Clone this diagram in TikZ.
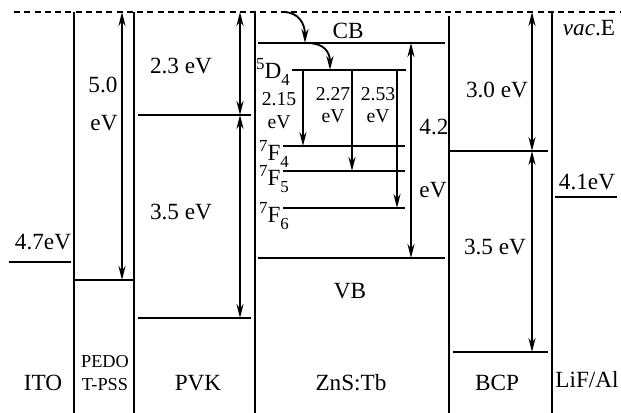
\documentclass[tikz,border=0pt]{standalone}
\usepackage{fontspec}
\setmainfont{Liberation Serif}
\usepackage{tikz}
\usetikzlibrary{arrows.meta, positioning}

\newcommand{\upidx}[1]{\raisebox{0.42em}{\fontsize{12}{12}\selectfont #1}}
\newcommand{\lowidx}[1]{\raisebox{-0.3em}{\fontsize{12}{12}\selectfont #1}}

\begin{document}
\begin{tikzpicture}[
        x=0.025cm, y=-0.025cm,
        wall/.style={line width=1.3pt},
        level/.style={line width=1.3pt},
        arrow/.style={-{Stealth[length=10pt, width=5pt]}, line width=1.3pt},
        darrow/.style={{Stealth[length=10pt, width=5pt]}-{Stealth[length=10pt, width=5pt]}, line width=1.3pt},
        lbl/.style={inner sep=0pt, font=\fontsize{16.5}{18}\selectfont},
        trans/.style={inner sep=0pt, font=\fontsize{14}{16}\selectfont},
        small/.style={inner sep=0pt, align=center, font=\fontsize{13}{16}\selectfont}
        ]
        \useasboundingbox (0,0) rectangle (621,413);

        % Vacuum level and layer walls
        \draw [dashed, dash pattern=on 4.3pt off 3pt, line width=1.3pt] (14,12) -- (621,12);
        \draw [wall] (74,12) -- (74,413);
        \draw [wall] (134,12) -- (134,413);
        \draw [wall] (255,12) -- (255,413);
        \draw [wall] (449,16) -- (449,413);
        \draw [wall] (552,12) -- (552,413);

        % Energy levels
        \draw [level] (9,262) -- (71,262);
        \draw [level] (74,280) -- (134,280);
        \draw [level] (138,115) -- (251,115);
        \draw [level] (138,318) -- (251,318);
        \draw [level] (258,43) -- (445,43);
        \draw [level] (258,258) -- (445,258);
        \draw [level] (292,70) -- (406,70);
        \draw [level] (283,146) -- (405,146);
        \draw [level] (283,171) -- (405,171);
        \draw [level] (283,208) -- (405,208);
        \draw [level] (449,151) -- (548,151);
        \draw [level] (453,352) -- (548,352);
        \draw [level] (555,197) -- (617,197);

        % Arrow end points
        \coordinate (pedotTop) at (122,12);
        \coordinate (pedotBot) at (122,280);
        \coordinate (pvkTop) at (240,12);
        \coordinate (pvkMid) at (240,115);
        \coordinate (pvkBot) at (240,318);
        \coordinate (dA) at (303,70);
        \coordinate (fA) at (303,146);
        \coordinate (dB) at (352,70);
        \coordinate (fB) at (352,171);
        \coordinate (dC) at (397,70);
        \coordinate (fC) at (397,208);
        \coordinate (cbGap) at (411,43);
        \coordinate (vbGap) at (411,258);
        \coordinate (bcpTop) at (532,12);
        \coordinate (bcpMid) at (532,151);
        \coordinate (bcpBot) at (532,352);
        \coordinate (vacIn) at (283,12);
        \coordinate (cbIn) at (305,43);
        \coordinate (cbOut) at (307,43);
        \coordinate (dIn) at (330,70);

        % Gaps and transitions
        \draw [darrow] (pedotTop) -- (pedotBot);
        \draw [darrow] (pvkTop) -- (pvkMid);
        \draw [darrow] (pvkMid) -- (pvkBot);
        \draw [arrow] (dA) -- (fA);
        \draw [arrow] (dB) -- (fB);
        \draw [arrow] (dC) -- (fC);
        \draw [darrow] (cbGap) -- (vbGap);
        \draw [darrow] (bcpTop) -- (bcpMid);
        \draw [darrow] (bcpMid) -- (bcpBot);
        \draw [arrow] (vacIn) .. controls (299,12) and (305,24) .. (cbIn);
        \draw [arrow] (cbOut) .. controls (324,43) and (330,52) .. (dIn);

        % Labels
        \node (itoE) [lbl] at (43,242) {4.7eV};
        \node (pedotE) [lbl] at (103,85) {5.0};
        \node (pedotEv) [lbl] at (104,123) {eV};
        \node (pvkUp) [lbl] at (181,66) {2.3 eV};
        \node (pvkDown) [lbl] at (181,212) {3.5 eV};
        \node (cb) [lbl] at (348,31) {CB};
        \node (vb) [lbl] at (350,291) {VB};
        \node (d4) [lbl] at (273,72) {\upidx{5}D\lowidx{4}};
        \node (tA) [trans] at (279,99) {2.15};
        \node (tAev) [trans] at (279,122) {eV};
        \node (tB) [trans] at (333,94) {2.27};
        \node (tBev) [trans] at (333,116) {eV};
        \node (tC) [trans] at (378,94) {2.53};
        \node (tCev) [trans] at (378,116) {eV};
        \node (f4) [lbl] at (274,154) {\upidx{7}F\lowidx{4}};
        \node (f5) [lbl] at (274,179) {\upidx{7}F\lowidx{5}};
        \node (f6) [lbl] at (274,216) {\upidx{7}F\lowidx{6}};
        \node (gapE) [lbl] at (434,127) {4.2};
        \node (gapEv) [lbl] at (433,190) {eV};
        \node (bcpUp) [lbl] at (497,90) {3.0 eV};
        \node (bcpDown) [lbl] at (495,247) {3.5 eV};
        \node (vac) [lbl] at (589,28) {\textit{vac}.E};
        \node (lifE) [lbl] at (587,182) {4.1eV};

        % Layer names
        \node (ito) [lbl] at (43,383) {ITO};
        \node (pedot) [small] at (105,373) {PEDO\\T-PSS};
        \node (pvk) [lbl] at (198,383) {PVK};
        \node (zns) [lbl] at (351,383) {ZnS:Tb};
        \node (bcp) [lbl] at (497,383) {BCP};
        \node (lif) [lbl] at (587,380) {LiF/Al};

    \end{tikzpicture}
\end{document}
